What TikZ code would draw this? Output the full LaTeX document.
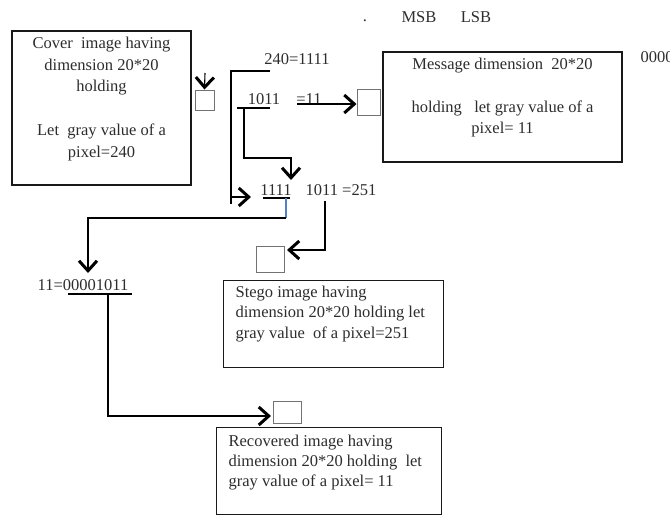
\documentclass[tikz,border=0pt]{standalone}
\usepackage{fontspec}
\setmainfont{Liberation Serif}
\usetikzlibrary{arrows.meta,positioning}
\definecolor{inkgray}{RGB}{45,45,45}
\definecolor{bitblue}{RGB}{80,130,200}
\tikzstyle{bigbox} = [rectangle, draw=black!90, line width=1.3pt, inner sep=0pt]
\tikzstyle{pix} = [rectangle, draw=black!55, line width=1pt, inner sep=0pt]
\tikzstyle{bits} = [inner sep=0pt]
\tikzstyle{arr} = [-{Straight Barb[length=10pt,width=18pt,line width=3pt]}]

\begin{document}
\begin{tikzpicture}[x=1pt, y=-1pt, line width=1.1pt,
  every node/.style={font=\fontsize{16.5}{21}\selectfont, text=inkgray}]
\useasboundingbox (0,0) rectangle (670,515);
\clip (0,0) rectangle (670,515);
% boxes
\node[bigbox] (cover) at (101.5,108) {\parbox[c][154pt][t]{179pt}{\centering\fontsize{16.5}{21.8}\selectfont
  \vspace*{2pt}\strut Cover\ \ image having\\ dimension 20*20\\ holding\\[21.8pt] Let\ \ gray value of a\\ pixel=240}};
\node[bigbox] (msg) at (502.5,107) {\parbox[c][110pt][t]{239pt}{\centering\fontsize{16.5}{21.5}\selectfont
  \vspace*{2pt}\strut Message dimension\ \ 20*20\\[21.5pt] holding\ \ \ let gray value of a\\ pixel= 11}};
\node[bigbox, anchor=north west] (stego) at (223,280) {\parbox[c][87pt][t]{220pt}{\raggedright\leftskip=12pt\fontsize{16.5}{20.5}\selectfont
  \vspace*{2pt}\strut Stego image having\\ dimension 20*20 holding let\\ gray value\ \ of a pixel=251}};
\node[bigbox, anchor=north west] (rec) at (216,427) {\parbox[c][87pt][t]{225pt}{\raggedright\leftskip=12pt\fontsize{16.5}{20}\selectfont
  \vspace*{5pt}\strut Recovered image having\\ dimension 20*20 holding\ \ let\\ gray value of a pixel= 11}};
% pixels
\node[pix, minimum width=19pt, minimum height=20pt] (pcover) at (204.5,100) {};
\node[pix, minimum width=23pt, minimum height=26pt] (pmsg) at (368.5,102) {};
\node[pix, minimum width=28pt, minimum height=26pt] (pstego) at (270,259) {};
\node[pix, minimum width=28pt, minimum height=22pt] (prec) at (287,412) {};
% bit strings
\node[bits] (tdot) at (365,21) {.};
\node[bits] (tmsb) at (419,17) {MSB};
\node[bits] (tlsb) at (476,17) {LSB};
\node[bits, anchor=west] (tzero) at (640,57) {0000};
\node[bits] (t240) at (297,59) {240=1111};
\node[bits] (t1011) at (264,99) {1011};
\node[bits] (t11) at (309,99) {=11};
\node[bits] (t1111) at (276,190) {1111};
\node[bits] (t251) at (341,190) {1011 =251};
\node[bits] (t00) at (83,285) {11=00001011};
% corner points
\coordinate (cin) at (205,73);
\coordinate (brtop) at (270,71);
\coordinate (brcorner) at (231,71);
\coordinate (brfoot) at (231,204);
\coordinate (brmid) at (231,197);
\coordinate (brtip) at (251,197);
\coordinate (ua) at (237,108);
\coordinate (ub) at (270,108);
\coordinate (uc) at (297,104);
\coordinate (da) at (244,108);
\coordinate (db) at (291,158);
\coordinate (dc) at (291,180);
\coordinate (ue) at (263,198);
\coordinate (uf) at (290,198);
\coordinate (ug) at (286,198);
\coordinate (uh) at (286,218);
\coordinate (ui) at (88,273);
\coordinate (sa) at (325,201);
\coordinate (sb) at (287,250);
\coordinate (ra) at (68,294);
\coordinate (rb) at (132,294);
\coordinate (rc) at (108,294);
\coordinate (rd) at (271,416);
% connectors
\draw[arr] (cin) -- (pcover.north);
\draw (brtop) -- (brcorner) -- (brfoot);
\draw[arr] (brmid) -- (brtip);
\draw (ua) -- (ub);
\draw[arr] (uc) -- (uc -| pmsg.west);
\draw[arr] (da) |- (db) -- (dc);
\draw (ue) -- (uf);
\draw[bitblue] (ug) -- (uh);
\draw[arr] (uh) -| (ui);
\draw[arr] (sa) |- (sb);
\draw (ra) -- (rb);
\draw[arr] (rc) |- (rd);
\end{tikzpicture}
\end{document}
